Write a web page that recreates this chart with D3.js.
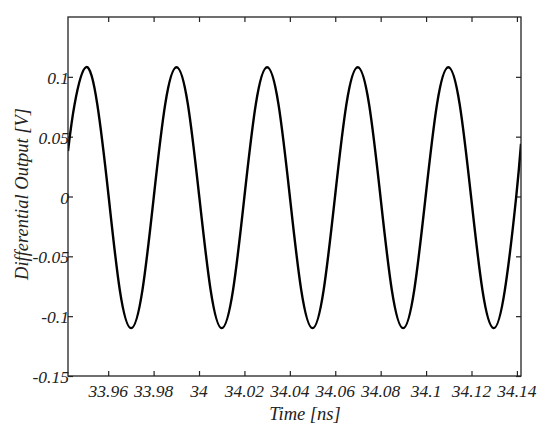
<!DOCTYPE html>
<html>
<head>
<meta charset="utf-8">
<title>Differential Output</title>
<script src="https://d3js.org/d3.v7.min.js"></script>
<style>
  body { margin: 0; background: #fff; }
  text { font-family: "Liberation Serif", "DejaVu Serif", serif; font-style: italic; fill: #222; }
</style>
</head>
<body>
<svg width="550" height="438"></svg>
<script>
// values (time in ns, output in V)
var timeNs = [33.9423, 33.9452, 33.9502, 33.9552, 33.9602, 33.9651, 33.9701, 33.9751, 33.9801,
  33.9851, 33.9901, 33.9951, 34.0001, 34.0051, 34.0100, 34.0150, 34.0200,
  34.0250, 34.0300, 34.0350, 34.0400, 34.0450, 34.0500, 34.0549, 34.0599,
  34.0649, 34.0699, 34.0749, 34.0799, 34.0849, 34.0899, 34.0948, 34.0998,
  34.1048, 34.1098, 34.1148, 34.1198, 34.1248, 34.1297, 34.1347, 34.1397, 34.1418];
var outputV = [0.038, 0.077, 0.108, 0.077, 0.000, -0.078, -0.110, -0.078, 0.000,
  0.077, 0.108, 0.077, 0.000, -0.078, -0.110, -0.078, 0.000,
  0.077, 0.108, 0.077, 0.000, -0.078, -0.110, -0.078, 0.000,
  0.077, 0.108, 0.077, 0.000, -0.078, -0.110, -0.078, 0.000,
  0.077, 0.108, 0.077, 0.000, -0.078, -0.110, -0.078, 0.000, 0.044];
var xTicks = [33.96, 33.98, 34, 34.02, 34.04, 34.06, 34.08, 34.1, 34.12, 34.14];
var yTicks = [-0.15, -0.1, -0.05, 0, 0.05, 0.1];

var mLeft = 68, mRight = 521, mTop = 17, mBottom = 376;
var svg = d3.select("svg");

var x = d3.scaleLinear().domain([33.9423, 34.1418]).range([mLeft, mRight]);
var y = d3.scaleLinear().domain([-0.15, 0.15]).range([mBottom, mTop]);

var data = timeNs.map(function(t, i) { return {t: t, v: outputV[i]}; });
var fmt = function(d) { return String(d).replace("\u2212", "-"); };

svg.append("clipPath").attr("id", "clip")
  .append("rect").attr("x", mLeft).attr("y", mTop).attr("width", mRight - mLeft).attr("height", mBottom - mTop);

// inward ticks on all four sides
svg.append("g").attr("transform", "translate(0," + mBottom + ")")
  .call(d3.axisTop(x).tickValues(xTicks).tickSize(5).tickFormat(""));
svg.append("g").attr("transform", "translate(0," + mTop + ")")
  .call(d3.axisBottom(x).tickValues(xTicks).tickSize(5).tickFormat(""));
svg.append("g").attr("transform", "translate(" + mLeft + ",0)")
  .call(d3.axisRight(y).tickValues(yTicks).tickSize(5).tickFormat(""));
svg.append("g").attr("transform", "translate(" + mRight + ",0)")
  .call(d3.axisLeft(y).tickValues(yTicks).tickSize(5).tickFormat(""));
svg.selectAll(".domain").remove();
svg.selectAll(".tick line").attr("stroke", "#222").attr("stroke-width", 1.2);

// tick labels
svg.selectAll(".xlab").data(xTicks).enter().append("text")
  .attr("x", function(d) { return x(d); })
  .attr("y", 397)
  .attr("text-anchor", "middle")
  .style("font-size", "17.5px")
  .text(fmt);
svg.selectAll(".ylab").data(yTicks).enter().append("text")
  .attr("x", mLeft + 1)
  .attr("y", function(d) { return y(d) + 7; })
  .attr("text-anchor", "end")
  .style("font-size", "17.5px")
  .text(fmt);

// the signal
svg.append("path").datum(data)
  .attr("clip-path", "url(#clip)")
  .attr("fill", "none")
  .attr("stroke", "#000")
  .attr("stroke-width", 2.4)
  .attr("d", d3.line().x(function(d) { return x(d.t); }).y(function(d) { return y(d.v); }).curve(d3.curveNatural));

// frame
svg.append("rect").attr("x", mLeft).attr("y", mTop).attr("width", mRight - mLeft).attr("height", mBottom - mTop)
  .attr("fill", "none").attr("stroke", "#222").attr("stroke-width", 1.3);

// axis titles
svg.append("text").attr("x", 305).attr("y", 420).attr("text-anchor", "middle")
  .style("font-size", "18.5px").text("Time [ns]");
svg.append("text").attr("transform", "translate(28,194) rotate(-90)").attr("text-anchor", "middle")
  .style("font-size", "18.5px").text("Differential Output [V]");
</script>
</body>
</html>
